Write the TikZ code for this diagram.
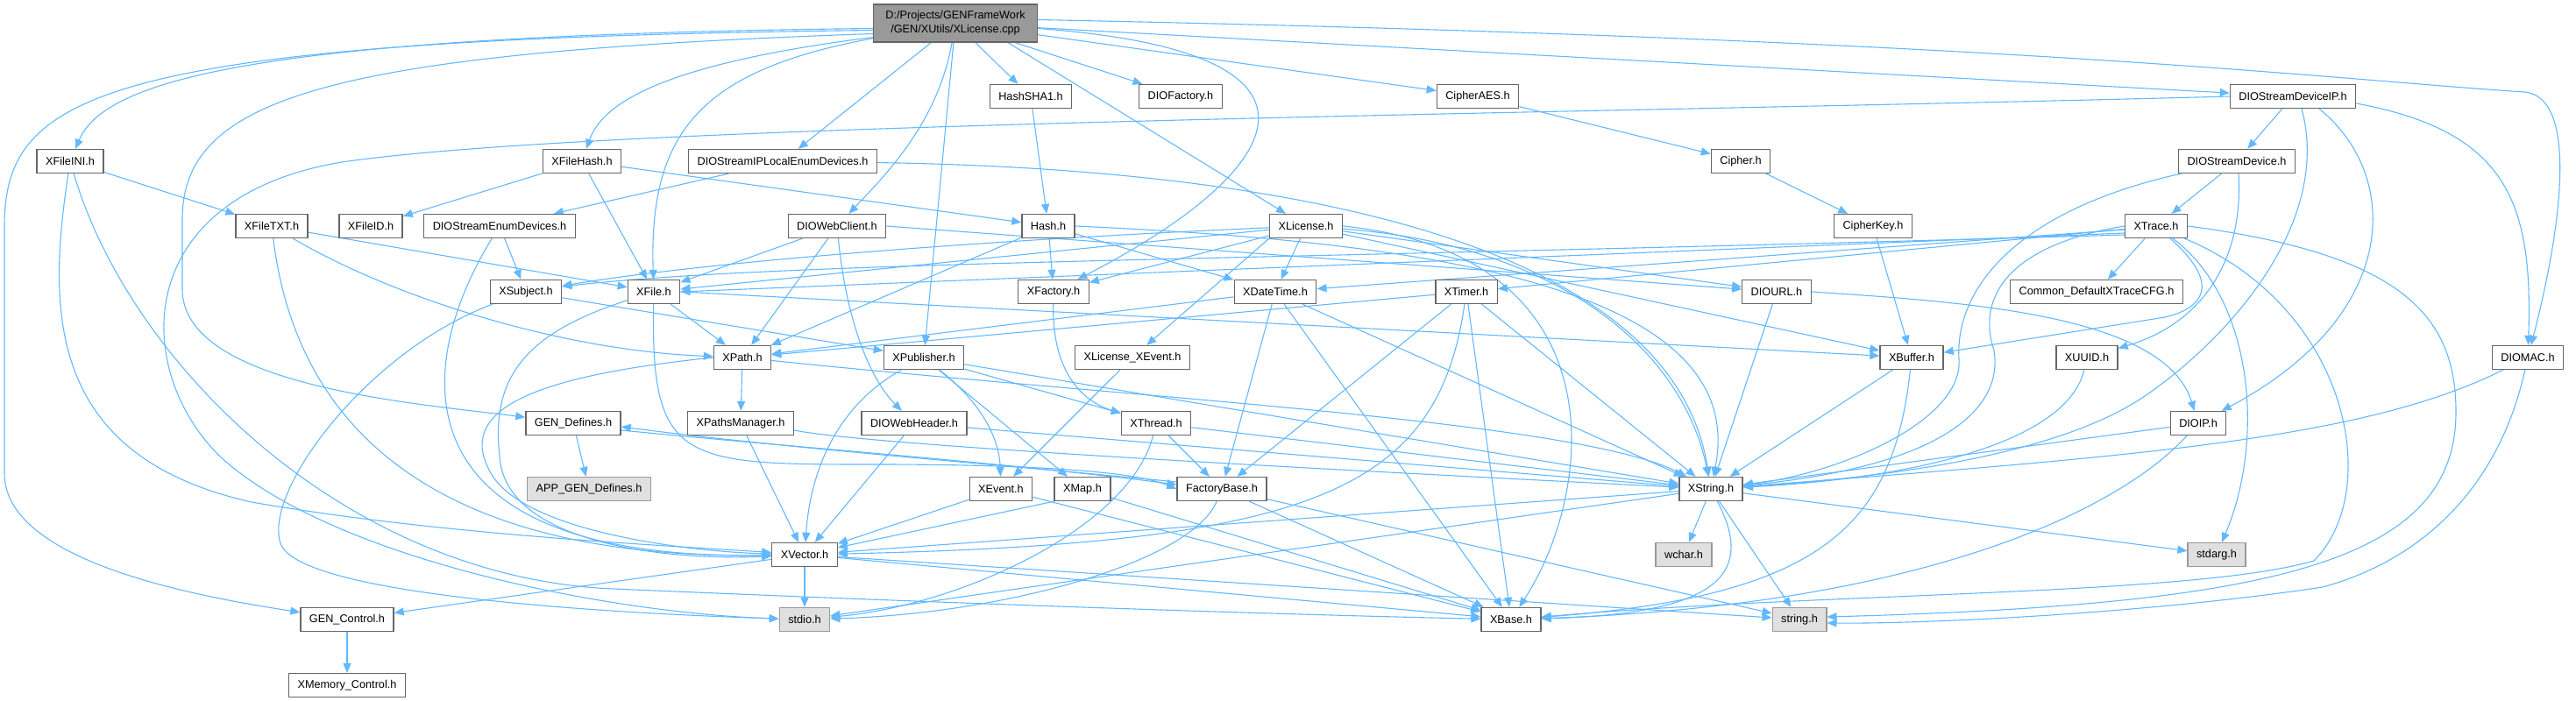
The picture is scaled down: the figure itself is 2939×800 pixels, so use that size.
\documentclass[tikz,border=0pt]{standalone}
\usepackage{fontspec}
\setsansfont{Liberation Sans}
\usetikzlibrary{arrows.meta,backgrounds}

\definecolor{edgeblue}{HTML}{63B8FF}
\definecolor{boxline}{HTML}{666666}
\definecolor{sysline}{HTML}{999999}
\definecolor{sysfill}{HTML}{E0E0E0}
\definecolor{rootfill}{HTML}{999999}

\begin{document}
\begin{tikzpicture}[
  x=1pt, y=1pt,
  font=\sffamily\fontsize{12.7}{16}\selectfont,
  file/.style={draw=boxline, fill=white, line width=1.3pt, minimum height=27pt, inner xsep=10pt, inner ysep=0pt},
  sysfile/.style={file, draw=sysline, fill=sysfill},
  root/.style={file, fill=rootfill, align=center, minimum height=43pt, minimum width=187pt},
  dep/.style={-{Triangle[length=11pt,width=9pt]}, draw=edgeblue, line width=1.1pt}
]
\useasboundingbox (0,0) rectangle (2939,-800);

\node[root] (main) at (1090,-26.5) {D:/Projects/GENFrameWork\\/GEN/XUtils/XLicense.cpp};
\node[file] (HashSHA1) at (1176,-110) {HashSHA1.h};
\node[file] (DIOFactory) at (1347,-110) {DIOFactory.h};
\node[file] (CipherAES) at (1686,-110) {CipherAES.h};
\node[file] (DIOStreamDeviceIP) at (2616,-110) {DIOStreamDeviceIP.h};
\node[file] (XFileINI) at (80,-184) {XFileINI.h};
\node[file] (XFileHash) at (664,-184) {XFileHash.h};
\node[file] (DIOStreamIPLocalEnumDevices) at (893,-184) {DIOStreamIPLocalEnumDevices.h};
\node[file] (Cipher) at (1986,-184) {Cipher.h};
\node[file] (DIOStreamDevice) at (2552,-184) {DIOStreamDevice.h};
\node[file] (XFileTXT) at (310,-258) {XFileTXT.h};
\node[file] (XFileID) at (423,-258) {XFileID.h};
\node[file] (DIOStreamEnumDevices) at (570,-258) {DIOStreamEnumDevices.h};
\node[file] (DIOWebClient) at (955,-258) {DIOWebClient.h};
\node[file] (Hash) at (1196,-258) {Hash.h};
\node[file] (XLicense) at (1490,-258) {XLicense.h};
\node[file] (CipherKey) at (2137,-258) {CipherKey.h};
\node[file] (XTrace) at (2460,-258) {XTrace.h};
\node[file] (XSubject) at (600,-333) {XSubject.h};
\node[file] (XFile) at (746,-333) {XFile.h};
\node[file] (XFactory) at (1202,-333) {XFactory.h};
\node[file] (XDateTime) at (1455,-333) {XDateTime.h};
\node[file] (XTimer) at (1673,-333) {XTimer.h};
\node[file] (DIOURL) at (2027,-333) {DIOURL.h};
\node[file] (CommonCFG) at (2392,-333) {Common\_DefaultXTraceCFG.h};
\node[file] (XPath) at (847,-408) {XPath.h};
\node[file] (XPublisher) at (1054,-408) {XPublisher.h};
\node[file] (XLicenseXEvent) at (1292,-408) {XLicense\_XEvent.h};
\node[file] (XBuffer) at (2181,-408) {XBuffer.h};
\node[file] (XUUID) at (2381,-408) {XUUID.h};
\node[file] (DIOMAC) at (2884,-408) {DIOMAC.h};
\node[file] (GENDefines) at (654,-483) {GEN\_Defines.h};
\node[file] (XPathsManager) at (845,-483) {XPathsManager.h};
\node[file] (DIOWebHeader) at (1043,-483) {DIOWebHeader.h};
\node[file] (XThread) at (1319,-483) {XThread.h};
\node[file] (DIOIP) at (2508,-483) {DIOIP.h};
\node[sysfile] (APPGENDefines) at (672,-558) {APP\_GEN\_Defines.h};
\node[file] (XEvent) at (1142,-558) {XEvent.h};
\node[file] (XMap) at (1235,-558) {XMap.h};
\node[file] (FactoryBase) at (1394,-558) {FactoryBase.h};
\node[file] (XString) at (1952,-558) {XString.h};
\node[file] (XVector) at (918,-633) {XVector.h};
\node[sysfile] (wchar) at (1921,-633) {wchar.h};
\node[sysfile] (stdarg) at (2529,-633) {stdarg.h};
\node[file] (GENControl) at (396,-707) {GEN\_Control.h};
\node[sysfile] (stdio) at (918,-707) {stdio.h};
\node[file] (XBase) at (1724,-707) {XBase.h};
\node[sysfile] (stringh) at (2053,-707) {string.h};
\node[file] (XMemoryControl) at (396,-782) {XMemory\_Control.h};

\begin{scope}[on background layer]
\foreach \t in {HashSHA1,DIOFactory,CipherAES,DIOStreamDeviceIP,DIOStreamIPLocalEnumDevices,XPublisher}
  \draw[dep] (main) -- (\t);
\draw[dep] ([xshift=60pt]main.south) -- (XLicense);
\draw[dep] ([yshift=-6pt]main.west) .. controls (300,-40) and (120,-90) .. (XFileINI);
\draw[dep] ([yshift=-8pt]main.west) .. controls (100,-45) and (5,-110) .. (5,-260) -- (5,-540) .. controls (5,-640) and (220,-680) .. (GENControl);
\draw[dep] ([yshift=-12pt]main.west) .. controls (380,-60) and (208,-110) .. (208,-250) -- (208,-330) .. controls (208,-440) and (470,-460) .. (GENDefines);
\draw[dep] ([yshift=-16pt]main.west) .. controls (780,-70) and (690,-110) .. (XFileHash);
\draw[dep] (main) .. controls (800,-80) and (740,-150) .. (XFile);
\draw[dep] (main) .. controls (1070,-140) and (1010,-200) .. (DIOWebClient);
\draw[dep] ([yshift=-6pt]main.east) .. controls (1560,-60) and (1460,-200) .. (XFactory);
\draw[dep] ([yshift=4pt]main.east) .. controls (2300,-45) and (2650,-90) .. (2880,-105) .. controls (2940,-110) and (2925,-250) .. (DIOMAC);

\draw[dep] (XFileINI) -- (XFileTXT);
\draw[dep] (XFileINI) .. controls (55,-350) and (50,-520) .. (287,-573) .. controls (500,-610) and (750,-622) .. (XVector);
\draw[dep] (XFileINI) .. controls (150,-420) and (400,-660) .. (700,-672) .. controls (1000,-685) and (1400,-700) .. (XBase);

\draw[dep] (XFileTXT) -- (XFile);
\draw[dep] (XFileTXT) .. controls (330,-420) and (420,-640) .. (XVector);
\draw[dep] (XFileTXT) .. controls (450,-340) and (640,-400) .. (XPath);

\foreach \t in {XFileID,XFile,Hash}
  \draw[dep] (XFileHash) -- (\t);

\draw[dep] (DIOStreamIPLocalEnumDevices) -- (DIOStreamEnumDevices);
\draw[dep] (DIOStreamIPLocalEnumDevices) .. controls (1300,-190) and (1900,-230) .. (XString);

\draw[dep] (DIOStreamEnumDevices) -- (XSubject);
\draw[dep] (DIOStreamEnumDevices) .. controls (470,-420) and (450,-640) .. (XVector);

\draw[dep] (DIOWebClient) -- (XFile);
\draw[dep] (DIOWebClient) -- (XPath);
\draw[dep] (DIOWebClient) .. controls (965,-360) and (990,-430) .. (DIOWebHeader);
\draw[dep] (DIOWebClient.east) -- (DIOURL);

\draw[dep] (HashSHA1) -- (Hash);
\foreach \t in {XFactory,XDateTime,XPath}
  \draw[dep] (Hash) -- (\t);
\draw[dep] (Hash.east) .. controls (1600,-275) and (2000,-320) .. (XString);

\foreach \t in {XDateTime,XFactory,DIOURL,XBuffer,XFile}
  \draw[dep] (XLicense) -- (\t);
\draw[dep] (XLicense.south west) -- (XLicenseXEvent);
\draw[dep] (XLicense) .. controls (1100,-275) and (800,-300) .. (XSubject);
\draw[dep] (XLicense) .. controls (1780,-280) and (1920,-400) .. (XString);
\draw[dep] (XLicense.east) .. controls (1850,-290) and (1820,-560) .. (XBase);

\draw[dep] (XFactory) .. controls (1200,-430) and (1240,-460) .. (XThread);

\foreach \t in {XPath,FactoryBase,XBase,XString}
  \draw[dep] (XDateTime) -- (\t);

\foreach \t in {XPath,FactoryBase,XString,XBase}
  \draw[dep] (XTimer) -- (\t);
\draw[dep] (XTimer) .. controls (1640,-560) and (1500,-620) .. (XVector);

\draw[dep] (XPath) -- (XPathsManager);
\draw[dep] (XPath) .. controls (1300,-455) and (1800,-480) .. (XString);
\draw[dep] (XPath.west) .. controls (600,-430) and (520,-470) .. (560,-540) .. controls (600,-610) and (800,-630) .. (XVector);

\foreach \t in {XMap,XThread,XString}
  \draw[dep] (XPublisher) -- (\t);
\draw[dep] (XPublisher) .. controls (960,-460) and (925,-530) .. (XVector);
\draw[dep] (XPublisher) .. controls (1120,-460) and (1140,-500) .. (XEvent);

\draw[dep] (XLicenseXEvent) -- (XEvent);

\draw[dep] (XSubject) -- (XPublisher);
\draw[dep] (XSubject) .. controls (420,-400) and (300,-560) .. (320,-620) .. controls (340,-680) and (700,-700) .. (stdio);

\draw[dep] (XFile) -- (XPath);
\draw[dep] (XFile.east) -- (XBuffer);
\draw[dep] (XFile) .. controls (600,-380) and (560,-430) .. (570,-520) .. controls (575,-620) and (760,-640) .. (XVector);
\draw[dep] (XFile) .. controls (742,-530) and (780,-530) .. (1000,-530) .. controls (1200,-530) and (1300,-540) .. (FactoryBase.west);

\draw[dep] (XPathsManager) -- (XVector);
\draw[dep] ([yshift=-8pt]XPathsManager.east) .. controls (1000,-510) and (1600,-540) .. (XString);

\draw[dep] (DIOWebHeader) -- (XVector);
\draw[dep] (DIOWebHeader) -- (XString);

\draw[dep] (XThread) -- (FactoryBase);
\draw[dep] (XThread) -- (XString);
\draw[dep] (XThread) .. controls (1290,-600) and (1100,-690) .. (stdio);

\draw[dep] (XEvent) -- (XVector);
\draw[dep] (XEvent) -- (XBase);
\draw[dep] (XMap.south west) -- (XVector);
\draw[dep] (XMap) -- (XBase);

\draw[dep] ([yshift=-8pt]GENDefines.east) .. controls (900,-510) and (1150,-528) .. ([yshift=5pt]FactoryBase.west);
\draw[dep] ([yshift=8pt]FactoryBase.west) .. controls (1140,-530) and (900,-512) .. ([yshift=-4pt]GENDefines.east);
\draw[dep] (FactoryBase) .. controls (1360,-640) and (1150,-700) .. (stdio);
\draw[dep] (FactoryBase) -- (XBase);
\draw[dep] (FactoryBase) -- (stringh);

\draw[dep] (GENDefines) -- (APPGENDefines);
\draw[dep] (GENControl) -- (XMemoryControl);

\foreach \t in {GENControl,stdio,XBase,stringh}
  \draw[dep] (XVector) -- (\t);

\foreach \t in {XVector,wchar,stringh,stdarg,stdio}
  \draw[dep] (XString) -- (\t);
\draw[dep] (XString) .. controls (2000,-650) and (1970,-700) .. (XBase);

\draw[dep] (CipherAES) -- (Cipher);
\draw[dep] (Cipher) -- (CipherKey);
\draw[dep] (CipherKey) -- (XBuffer);

\draw[dep] (DIOStreamDeviceIP) -- (DIOStreamDevice);
\draw[dep] ([xshift=10pt]DIOStreamDeviceIP.south) .. controls (2660,-250) and (2550,-380) .. (2450,-450) .. controls (2350,-520) and (2150,-545) .. (XString);
\draw[dep] ([xshift=30pt]DIOStreamDeviceIP.south) .. controls (2740,-200) and (2740,-360) .. (DIOIP);
\draw[dep] ([yshift=-8pt]DIOStreamDeviceIP.east) .. controls (2860,-150) and (2890,-230) .. (DIOMAC);
\draw[dep] (DIOStreamDeviceIP.west) .. controls (1800,-130) and (700,-140) .. (390,-185) .. controls (150,-225) and (150,-420) .. (250,-520) .. controls (380,-640) and (700,-700) .. (stdio);

\draw[dep] (DIOStreamDevice) -- (XTrace);
\draw[dep] ([xshift=2pt]DIOStreamDevice.south) .. controls (2560,-300) and (2510,-370) .. (XUUID);
\draw[dep] (DIOStreamDevice) .. controls (2300,-240) and (2230,-330) .. (2235,-410) .. controls (2240,-480) and (2100,-540) .. (XString);

\draw[dep] (XTrace) -- (CommonCFG);
\draw[dep] (XTrace) -- (XTimer);
\draw[dep] ([yshift=-4pt]XTrace.west) -- (XDateTime);
\draw[dep] ([yshift=-8pt]XTrace.west) -- (XFile.east);
\draw[dep] ([yshift=-10pt]XTrace.west) .. controls (1400,-298) and (900,-298) .. ([yshift=6pt]XSubject.east);
\draw[dep] (XTrace) .. controls (2530,-320) and (2520,-350) .. (2470,-362) -- (XBuffer);
\draw[dep] (XTrace.west) .. controls (2290,-280) and (2255,-340) .. (2275,-400) .. controls (2285,-460) and (2230,-530) .. (XString);
\draw[dep] (XTrace) .. controls (2570,-340) and (2585,-500) .. (stdarg);
\draw[dep] ([xshift=-4pt]XTrace.south east) .. controls (2680,-350) and (2720,-560) .. (2640,-640) .. controls (2500,-680) and (2100,-675) .. (XBase);
\draw[dep] (XTrace.east) .. controls (2740,-290) and (2802,-360) .. (2802,-470) .. controls (2802,-640) and (2600,-690) .. ([yshift=3pt]stringh.east);

\draw[dep] (DIOURL) -- (XString);
\draw[dep] (DIOURL.east) .. controls (2250,-345) and (2470,-360) .. (DIOIP);

\draw[dep] (XBuffer) -- (XString);
\draw[dep] (XBuffer) .. controls (2160,-600) and (2080,-680) .. (XBase);

\draw[dep] (XUUID) .. controls (2360,-500) and (2200,-545) .. (XString);

\draw[dep] (DIOIP) -- (XString);
\draw[dep] (DIOIP) .. controls (2420,-580) and (2200,-690) .. (XBase);

\draw[dep] (DIOMAC) .. controls (2700,-500) and (2450,-520) .. (XString);
\draw[dep] (DIOMAC) .. controls (2850,-560) and (2760,-640) .. (2650,-670) .. controls (2450,-700) and (2200,-712) .. ([yshift=-4pt]stringh.east);
\end{scope}

\end{tikzpicture}
\end{document}
